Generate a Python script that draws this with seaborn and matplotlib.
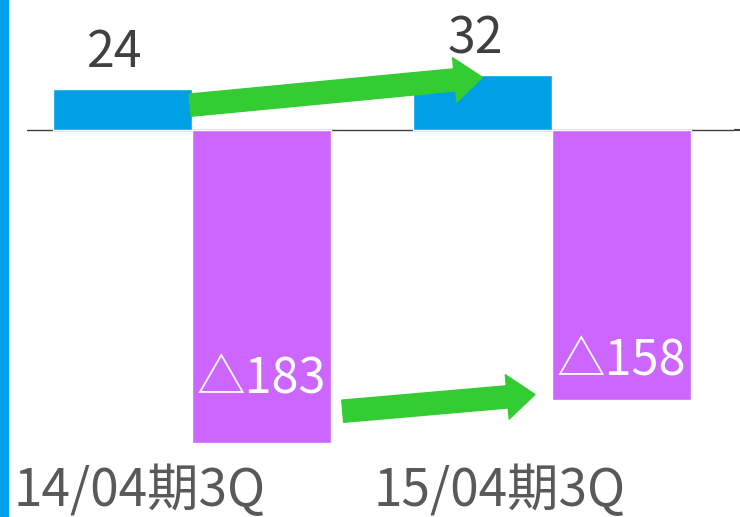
import pandas as pd
import numpy as np
import seaborn as sns
import matplotlib.pyplot as plt
from matplotlib.patches import Rectangle
from matplotlib.transforms import ScaledTranslation

sns.set_theme(style='white')
plt.rcParams['font.family'] = ['Noto Sans CJK JP', 'DejaVu Sans']

# データ
periods = ['14/04期3Q', '15/04期3Q']
series = ['利益', '損失']
profit = [24, 32]
loss = [-183, -158]
loss_labels = ['△183', '△158']

df = pd.DataFrame({
    'period': periods * 2,
    'series': [series[0]] * 2 + [series[1]] * 2,
    'value': profit + loss,
})

# 色
blue = '#00A0E6'
purple = '#CC66FF'
green = '#33CC33'

fig = plt.figure(figsize=(7.4, 5.17), dpi=100)
ax = fig.add_axes([27 / 740, 1 - 455 / 517, 707 / 740, 455 / 517])

sns.barplot(data=df, x='period', y='value', hue='series', order=periods,
            palette=[blue, purple], width=0.772, saturation=1, legend=False, ax=ax)

ax.axhline(0, color='#404040', lw=1.0, zorder=0.5)
ax.set_xlim(-0.458, 1.506)
ax.set_ylim(-190.1, 76.0)

# 値ラベル
bar_w = 0.772 / 2
for i, v in enumerate(profit):
    ax.annotate(str(v), (i - bar_w / 2 - 0.02, v), xytext=(0, 7),
                textcoords='offset points', ha='center', va='bottom',
                fontsize=36, color='#404040')
loss_offsets = [38, 14]
for i, (v, lab) in enumerate(zip(loss, loss_labels)):
    ax.annotate(lab, (i + bar_w / 2, v), xytext=(0, loss_offsets[i] * 0.72),
                textcoords='offset points', ha='center', va='bottom',
                fontsize=35, color='white')

# 矢印
arrow_kw = dict(arrowstyle='simple,head_length=20,head_width=32,tail_width=16',
                mutation_scale=1, color=green, shrinkA=0, shrinkB=0)
ax.annotate('', xy=(1 - bar_w / 2, 30.8), xytext=(-0.005, 14.5),
            arrowprops=arrow_kw, zorder=5)
ax.annotate('', xy=(0.953, -154.7), xytext=(0.419, -164.5),
            arrowprops=arrow_kw, zorder=5)

# 軸
ax.set_xlabel('')
ax.set_ylabel('')
ax.set_xticks(range(len(periods)))
ax.set_xticklabels(periods, fontsize=37, color='#595959')
ax.tick_params(axis='x', length=0, pad=7)
for t in ax.get_xticklabels():
    t.set_transform(t.get_transform() + ScaledTranslation(-0.52, 0, fig.dpi_scale_trans))
ax.yaxis.tick_right()
ax.set_yticks([0])
ax.set_yticklabels([''])
ax.tick_params(axis='y', length=4.5, width=1.5, color='#404040', direction='out')
ax.grid(False)
sns.despine(ax=ax, left=True, bottom=True, right=True, top=True)
ax.patch.set_alpha(0)

# 左端の青帯
fig.patches.append(Rectangle((0, 0), 8 / 740, 1, transform=fig.transFigure,
                             color='#00A0E9', zorder=0))

fig.savefig('out.png', dpi=100)
